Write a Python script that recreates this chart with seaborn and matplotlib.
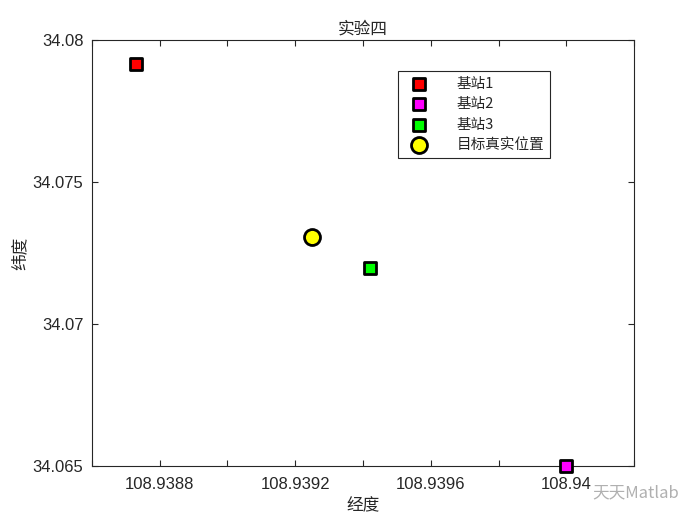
import numpy as np
import pandas as pd
import matplotlib
matplotlib.use("Agg")
import matplotlib.pyplot as plt
import seaborn as sns
from matplotlib.ticker import MultipleLocator, FuncFormatter

# data
names = ["基站1", "基站2", "基站3", "目标真实位置"]
lon = [108.93873, 108.94000, 108.93942, 108.93925]
lat = [34.07917, 34.06500, 34.07197, 34.07305]
colors = ["#ff0000", "#ff00ff", "#00ff00", "#ffff00"]
markers = ["s", "s", "s", "o"]
sizes = [77, 77, 77, 132]

sns.set_style("ticks")
plt.rcParams['font.family'] = ['Liberation Sans', 'Noto Sans CJK SC', 'DejaVu Sans']
cjk = ['Noto Sans CJK SC', 'DejaVu Sans']
grey = "#262626"

fig = plt.figure(figsize=(7, 5.25), dpi=100)
ax = fig.add_axes([0.131, 0.1124, 0.775, 0.8114])

for i in range(len(names)):
    sns.scatterplot(x=[lon[i]], y=[lat[i]], ax=ax, marker=markers[i], s=sizes[i],
                    color=colors[i], edgecolor="black", linewidth=2,
                    label=names[i], zorder=3, clip_on=False)

ax.set_xlim(108.9386, 108.9402)
ax.set_ylim(34.065, 34.08)
ax.xaxis.set_major_locator(MultipleLocator(0.0004))
ax.xaxis.set_minor_locator(MultipleLocator(0.0002))
ax.yaxis.set_major_locator(MultipleLocator(0.005))
fmt = FuncFormatter(lambda v, p: f"{round(v, 6):.10g}")
ax.xaxis.set_major_formatter(fmt)
ax.yaxis.set_major_formatter(fmt)
ax.tick_params(which="both", direction="in", top=True, right=True, length=4.5,
               width=0.8, color=grey, labelcolor=grey, labelsize=12)
ax.tick_params(axis="x", pad=8)
ax.tick_params(axis="y", pad=6)
for sp in ax.spines.values():
    sp.set_color(grey)
    sp.set_linewidth(0.8)

ax.set_title("实验四", family=cjk, fontsize=12, color=grey, pad=5)
ax.set_xlabel("经度", family=cjk, fontsize=12, color=grey, labelpad=4)
ax.set_ylabel("纬度", family=cjk, fontsize=12, color=grey, labelpad=3)

leg = ax.legend(loc="upper left", bbox_to_anchor=(0.565, 0.928), prop={'family': cjk, 'size': 10.5},
                frameon=True, fancybox=False, framealpha=1, edgecolor=grey,
                borderpad=0.4, labelspacing=0.45, handletextpad=1.6, borderaxespad=0)
leg.get_frame().set_linewidth(0.8)
for t in leg.get_texts():
    t.set_color(grey)

fig.text(0.97, 0.045, "天天Matlab", family=cjk, fontsize=12, color="#b0b0b0",
         ha="right", va="bottom", zorder=5)

fig.savefig("out.png", dpi=100)
